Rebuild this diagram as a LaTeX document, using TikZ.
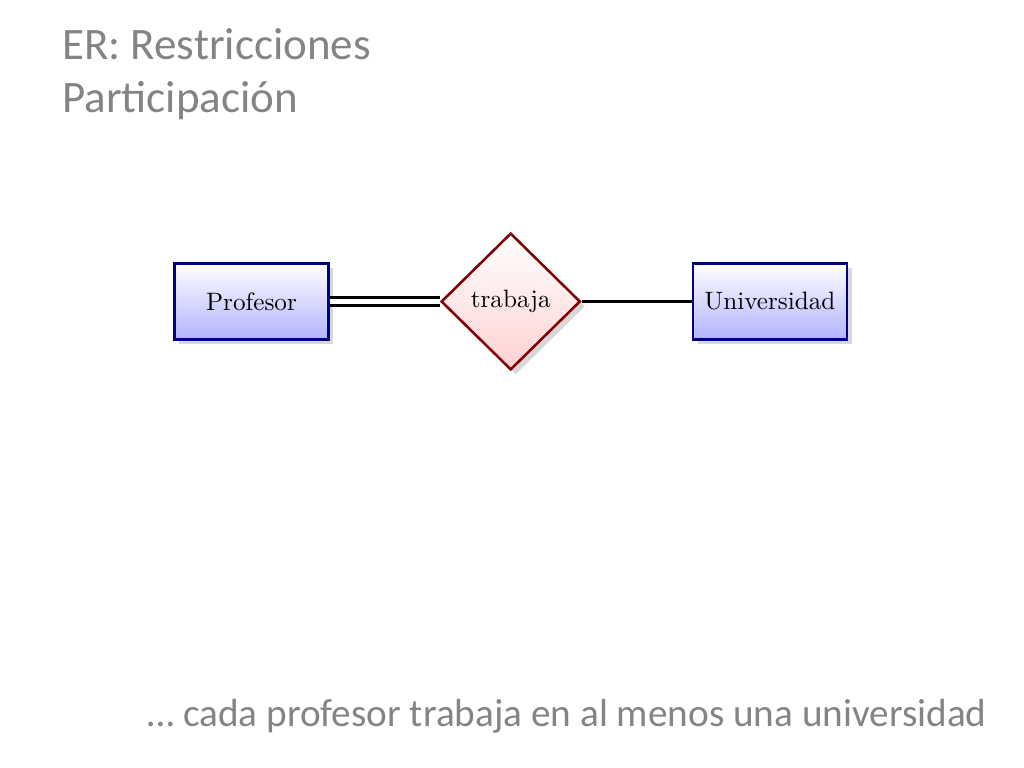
\documentclass[tikz,border=0pt]{standalone}
\usepackage{fontspec}
\newfontfamily\slidefont{Carlito}
\newfontfamily\erfont{lmroman10-regular}[Extension=.otf]
\usepackage{tikz}
\usetikzlibrary{positioning}
\usetikzlibrary{shapes.geometric,shadows}
\definecolor{slidegray}{RGB}{132,132,132}

\tikzset{
	entity/.style={draw=blue!50!black, line width=1.8pt, rectangle, minimum width=3.85cm, minimum height=1.9cm,
		top color=white, bottom color=blue!30, drop shadow={shadow xshift=3.5pt, shadow yshift=-3.5pt, fill=black!30},
		font=\erfont\fontsize{17.9}{20}\selectfont},
	relation/.style={draw=red!50!black, line width=1.8pt, diamond, minimum width=3.48cm, minimum height=3.42cm, inner sep=0pt,
		top color=white, bottom color=red!18, drop shadow={shadow xshift=3.5pt, shadow yshift=-3.5pt, fill=black!30},
		font=\erfont\fontsize{17.9}{20}\selectfont},
	link/.style={line width=1.8pt},
	total/.style={line width=1.6pt, double, double distance=4pt},
	slidetext/.style={text=slidegray, inner sep=0pt}
}

\begin{document}
\begin{tikzpicture}[x=0.025cm, y=-0.025cm, node distance=2.75cm]
		\useasboundingbox (0,0) rectangle (1024,768);
		\node (title1) [slidetext, anchor=base west] at (62,60) {\slidefont\fontsize{32}{36}\selectfont ER: Restricciones};
		\node (title2) [slidetext, anchor=base west] at (62,113) {\slidefont\fontsize{32}{36}\selectfont Participación};
		\node (prof) [entity] at (251.5,301.5) {Profesor};
		\node (rel) [relation, right = of prof] {trabaja};
		\node (univ) [entity, right = of rel] {Universidad};
		\draw[total] (prof) -- (rel);
		\draw[link] (rel) -- (univ);
		\node (note) [slidetext, anchor=base west] at (147,726) {\slidefont\fontsize{27.9}{32}\selectfont … cada profesor trabaja en al menos una universidad};
		\end{tikzpicture}
\end{document}
